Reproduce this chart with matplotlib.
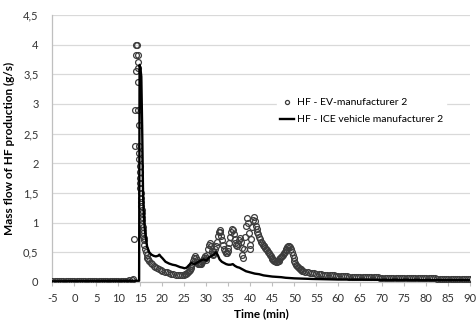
import numpy as np
import matplotlib
matplotlib.use("Agg")
import matplotlib.pyplot as plt
from matplotlib.ticker import FuncFormatter

plt.rcParams['font.family'] = ['Lato', 'DejaVu Sans']
plt.rcParams['axes.unicode_minus'] = False

# -----------------------------
# EV manufacturer 2 (circles)
# -----------------------------

# flat start, sampled every 0.5 min from -5 to 13
ev_time_flat = np.linspace(-5, 13, 37)
ev_flow_flat = [0.01, 0.01, 0.01, 0.01, 0.01, 0.01, 0.01, 0.01, 0.01, 0.01,
                0.01, 0.01, 0.01, 0.01, 0.01, 0.01, 0.02, 0.02, 0.02, 0.02,
                0.02, 0.02, 0.02, 0.02, 0.02, 0.02, 0.02, 0.02, 0.02, 0.02,
                0.02, 0.02, 0.02, 0.02, 0.02, 0.03, 0.03]

# peak and decay
ev_time_peak = [13.3, 13.5, 13.7, 13.8, 13.9, 14.0, 14.1, 14.25, 14.35, 14.4,
                14.45, 14.5, 14.55, 14.6, 14.65, 14.7, 14.75, 14.8, 14.85, 14.9,
                14.95, 15.0, 15.05, 15.1, 15.15, 15.2, 15.25, 15.3, 15.35, 15.4,
                15.45, 15.5, 15.55, 15.6, 15.65, 15.7, 15.75, 15.9, 16.05, 16.2,
                16.4, 16.6, 16.8, 17.0, 17.3, 17.6, 18.0, 18.4, 18.8, 19.2,
                19.6, 20.0, 20.5, 21.0, 21.5, 22.0, 22.5, 23.0, 23.5, 24.0,
                24.5]
ev_flow_peak = [0.05, 0.72, 2.3, 2.9, 3.55, 3.83, 4.0, 4.0, 3.83, 3.7,
                3.6, 3.37, 2.9, 2.65, 2.3, 2.18, 2.07, 1.96, 1.86, 1.76,
                1.67, 1.58, 1.5, 1.42, 1.35, 1.28, 1.22, 1.16, 1.1, 1.04,
                0.98, 0.93, 0.88, 0.83, 0.78, 0.74, 0.7, 0.62, 0.55, 0.5,
                0.45, 0.41, 0.38, 0.35, 0.32, 0.3, 0.27, 0.25, 0.23, 0.21,
                0.2, 0.18, 0.17, 0.16, 0.15, 0.14, 0.13, 0.12, 0.11, 0.11,
                0.11]

# oscillating part, sampled every 0.2 min from 25 to 51.8
ev_time_mid = np.linspace(25.0, 51.8, 135)
ev_flow_mid = [0.12, 0.13, 0.14, 0.15, 0.16, 0.18, 0.2, 0.23, 0.27, 0.31,
               0.35, 0.4, 0.44, 0.41, 0.37, 0.33, 0.31, 0.3, 0.3, 0.31,
               0.33, 0.37, 0.41, 0.44, 0.4, 0.37, 0.45, 0.55, 0.63, 0.66,
               0.6, 0.52, 0.47, 0.46, 0.5, 0.55, 0.6, 0.68, 0.77, 0.84,
               0.87, 0.85, 0.78, 0.7, 0.62, 0.56, 0.52, 0.49, 0.48, 0.52,
               0.58, 0.66, 0.75, 0.84, 0.9, 0.88, 0.8, 0.72, 0.66, 0.62,
               0.6, 0.64, 0.7, 0.74, 0.68, 0.58, 0.45, 0.4, 0.55, 0.75,
               0.95, 1.08, 1.0, 0.82, 0.62, 0.55, 0.72, 0.92, 1.05, 1.1,
               1.02, 0.95, 0.9, 0.85, 0.8, 0.76, 0.72, 0.68, 0.65, 0.62,
               0.6, 0.6, 0.58, 0.55, 0.53, 0.5, 0.48, 0.45, 0.43, 0.41,
               0.39, 0.37, 0.36, 0.35, 0.34, 0.34, 0.35, 0.36, 0.38, 0.4,
               0.42, 0.44, 0.46, 0.48, 0.5, 0.53, 0.56, 0.59, 0.61, 0.61,
               0.59, 0.55, 0.5, 0.45, 0.4, 0.36, 0.32, 0.29, 0.27, 0.25,
               0.23, 0.22, 0.21, 0.2, 0.19]

# tail, sampled every 0.5 min from 52 to 90
ev_time_tail = np.linspace(52, 90, 77)
ev_flow_tail = [0.18, 0.17, 0.165, 0.155, 0.15, 0.145, 0.14, 0.135, 0.13, 0.125,
                0.12, 0.115, 0.115, 0.11, 0.11, 0.105, 0.1, 0.1, 0.1, 0.095,
                0.095, 0.09, 0.09, 0.09, 0.085, 0.085, 0.085, 0.08, 0.08, 0.08,
                0.08, 0.075, 0.075, 0.075, 0.075, 0.07, 0.07, 0.07, 0.07, 0.07,
                0.068, 0.068, 0.066, 0.066, 0.065, 0.065, 0.064, 0.064, 0.063, 0.063,
                0.062, 0.062, 0.061, 0.061, 0.06, 0.06, 0.06, 0.059, 0.059, 0.058,
                0.058, 0.057, 0.057, 0.056, 0.056, 0.055, 0.055, 0.055, 0.054, 0.054,
                0.053, 0.053, 0.052, 0.052, 0.051, 0.051, 0.05]

# -----------------------------
# ICE vehicle manufacturer 2 (line)
# -----------------------------

ice_time = [-5, 14.7, 14.8, 15.0, 15.2, 15.4, 15.6, 15.8, 16.0, 16.5,
            17.0, 17.5, 18.0, 18.5, 19.0, 19.3, 19.6, 20.0, 20.7, 21.5,
            22.3, 23.0, 24.0, 24.6, 25.0, 25.5, 26.0, 26.6, 27.3, 28.0,
            28.7, 29.3, 30.0, 30.7, 31.5, 32.2, 32.6, 33.0, 33.5, 34.0,
            34.5, 35.0, 35.5, 36.0, 36.5, 37.0, 37.5, 38.0, 38.5, 39.0,
            39.5, 40.0, 41.0, 42.0, 43.0, 44.0, 45.0, 46.0, 47.0, 48.0,
            49.0, 50.0, 52.0, 54.0, 57.0, 60.0, 65.0, 70.0, 75.0, 80.0,
            85.0, 90.0]
ice_flow = [0.01, 0.02, 3.66, 3.6, 3.46, 2.56, 1.44, 1.1, 0.88, 0.6,
            0.5, 0.46, 0.44, 0.43, 0.44, 0.46, 0.43, 0.4, 0.34, 0.31,
            0.29, 0.28, 0.25, 0.24, 0.23, 0.24, 0.28, 0.32, 0.3, 0.33,
            0.36, 0.38, 0.36, 0.42, 0.45, 0.5, 0.45, 0.38, 0.34, 0.32,
            0.3, 0.29, 0.29, 0.3, 0.27, 0.25, 0.24, 0.22, 0.2, 0.18,
            0.17, 0.16, 0.14, 0.13, 0.11, 0.1, 0.09, 0.085, 0.08, 0.07,
            0.065, 0.06, 0.055, 0.05, 0.045, 0.04, 0.04, 0.035, 0.035, 0.03,
            0.03, 0.03]

ev_time = np.concatenate([ev_time_flat, ev_time_peak, ev_time_mid, ev_time_tail])
ev_flow = np.concatenate([ev_flow_flat, ev_flow_peak, ev_flow_mid, ev_flow_tail])

x_ticks = list(range(-5, 91, 5))
y_ticks = [0, 0.5, 1, 1.5, 2, 2.5, 3, 3.5, 4, 4.5]

# -----------------------------
# Figure
# -----------------------------

fig = plt.figure(figsize=(4.77, 3.2), dpi=100)
ax = fig.add_axes([0.110, 0.119, 0.876, 0.834])

ax.plot(ev_time, ev_flow, linestyle="none", marker="o", markersize=4.2,
        markerfacecolor="none", markeredgecolor="#3c3c3c", markeredgewidth=0.9,
        label="HF - EV-manufacturer 2", zorder=3)
ax.plot(ice_time, ice_flow, color="black", linewidth=1.7,
        label="HF - ICE vehicle manufacturer 2", zorder=4)

ax.set_xlim(-5, 90)
ax.set_ylim(0, 4.5)
ax.set_xticks(x_ticks)
ax.set_yticks(y_ticks)
ax.yaxis.set_major_formatter(FuncFormatter(lambda v, p: f"{v:g}".replace(".", ",")))

ax.grid(axis="y", color="#d9d9d9", linewidth=0.9)
ax.set_axisbelow(True)
for side in ["top", "right"]:
    ax.spines[side].set_visible(False)
for side in ["left", "bottom"]:
    ax.spines[side].set_color("#bfbfbf")
    ax.spines[side].set_linewidth(0.9)

ax.tick_params(axis="y", length=0, pad=10, labelsize=8, labelcolor="#333333")
ax.tick_params(axis="x", length=3, width=0.8, color="#bfbfbf", pad=5,
               labelsize=8, labelcolor="#333333")

ax.set_xlabel("Time (min)", fontsize=8.5, fontweight="bold", labelpad=3)
ax.set_ylabel("Mass flow of HF production (g/s)", fontsize=8.5,
              fontweight="bold", labelpad=6)

leg = ax.legend(loc="upper left", bbox_to_anchor=(0.525, 0.72), frameon=True,
                fontsize=7.5, handlelength=1.3, handletextpad=0.3,
                labelspacing=0.75, borderpad=0.3, markerscale=0.7)
leg.get_frame().set_edgecolor("white")
leg.get_frame().set_facecolor("white")
leg.get_frame().set_alpha(1)

fig.savefig("out.png", dpi=100)
